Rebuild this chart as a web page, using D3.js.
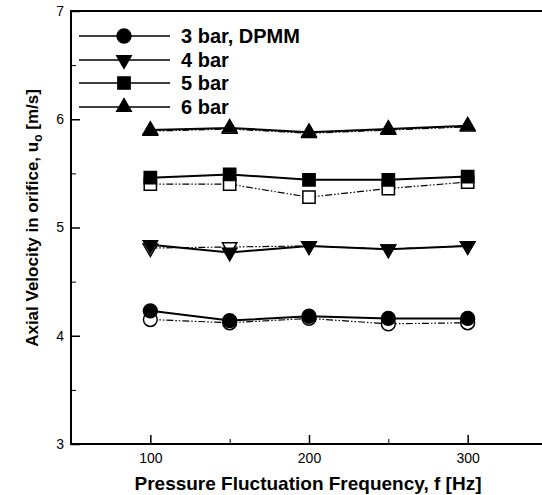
<!DOCTYPE html>
<html><head><meta charset="utf-8">
<script src="https://cdn.jsdelivr.net/npm/d3@7"></script>
<style>html,body{margin:0;background:#fff;overflow:hidden}svg{display:block}text{font-family:Arial,"Liberation Sans",sans-serif}</style>
</head><body><svg id="c" width="542" height="495"></svg>
<script>
const freqs = [100, 150, 200, 250, 300];
const seriesNames = ["3 bar, DPMM", "4 bar", "5 bar", "6 bar"];
const solid3 = [4.23, 4.14, 4.18, 4.16, 4.16];
const open3  = [4.15, 4.12, 4.16, 4.11, 4.12];
const solid4 = [4.84, 4.77, 4.83, 4.80, 4.83];
const open4  = [4.81, 4.82, 4.83, 4.80, 4.83];
const solid5 = [5.46, 5.49, 5.44, 5.44, 5.47];
const open5  = [5.40, 5.40, 5.28, 5.36, 5.42];
const solid6 = [5.90, 5.92, 5.88, 5.91, 5.94];
const open6  = [5.89, 5.91, 5.87, 5.90, 5.93];
const xTicks = [100, 200, 300];
const xMinor = [150, 250];
const yTicks = [3, 4, 5, 6, 7];
const yMinor = [3.5, 4.5, 5.5, 6.5];

const svg = d3.select("#c");
const L = 71, R = 547, T = 11, B = 444;
const x = d3.scaleLinear().domain([50, 350]).range([L, R]);
const y = d3.scaleLinear().domain([3, 7]).range([B, T]);

svg.append("path").attr("d", `M${R},${T}H${L}V${B}H${R}`)
  .attr("fill", "none").attr("stroke", "#000").attr("stroke-width", 2);

const gx = svg.append("g").attr("transform", `translate(0,${B})`)
  .call(d3.axisBottom(x).tickValues(xTicks).tickSizeInner(-9).tickSizeOuter(0).tickPadding(9).tickFormat(d3.format("d")));
gx.select(".domain").remove();
gx.selectAll("line").attr("stroke-width", 1.5);
gx.selectAll("text").attr("font-size", 14).attr("fill", "#000");
svg.append("g").attr("transform", `translate(0,${B})`)
  .call(d3.axisBottom(x).tickValues(xMinor).tickSizeInner(-5).tickSizeOuter(0).tickFormat(""))
  .call(g => g.select(".domain").remove()).selectAll("line").attr("stroke-width", 1);

const gy = svg.append("g").attr("transform", `translate(${L},0)`)
  .call(d3.axisLeft(y).tickValues(yTicks).tickSizeInner(-9).tickSizeOuter(0).tickPadding(7).tickFormat(d3.format("d")));
gy.select(".domain").remove();
gy.selectAll("line").attr("stroke-width", 1.5);
gy.selectAll("text").attr("font-size", 14).attr("fill", "#000");
svg.append("g").attr("transform", `translate(${L},0)`)
  .call(d3.axisLeft(y).tickValues(yMinor).tickSizeInner(-5).tickSizeOuter(0).tickFormat(""))
  .call(g => g.select(".domain").remove()).selectAll("line").attr("stroke-width", 1);

svg.append("text").attr("x", 308).attr("y", 490).attr("text-anchor", "middle")
  .attr("font-size", 19).attr("font-weight", "bold").text("Pressure Fluctuation Frequency, f [Hz]");
const yt = svg.append("text").attr("transform", "translate(38,218) rotate(-90)").attr("text-anchor", "middle")
  .attr("font-size", 17).attr("font-weight", "bold");
yt.append("tspan").text("Axial Velocity in orifice, u");
yt.append("tspan").attr("font-size", 12).attr("dy", 4).text("o");
yt.append("tspan").attr("dy", -4).text(" [m/s]");

const shapes = [d3.symbolCircle, "down", d3.symbolSquare, d3.symbolTriangle];
const sizes = [150, 90, 150, 90];
function marker(g, k, cx, cy, filled) {
  let p;
  if (shapes[k] === "down") {
    p = g.append("path").attr("d", d3.symbol(d3.symbolTriangle, sizes[k])())
      .attr("transform", `translate(${cx},${cy}) rotate(180)`);
  } else {
    p = g.append("path").attr("d", d3.symbol(shapes[k], sizes[k])())
      .attr("transform", `translate(${cx},${cy})`);
  }
  p.attr("fill", filled ? "#000" : "#fff").attr("stroke", "#000").attr("stroke-width", 1.5);
}

const solids = [solid3, solid4, solid5, solid6];
const opens = [open3, open4, open5, open6];
const line = d3.line().x((d, i) => x(freqs[i])).y(d => y(d));

opens.forEach((vals, k) => {
  const g = svg.append("g");
  g.append("path").attr("d", line(vals)).attr("fill", "none").attr("stroke", "#000")
    .attr("stroke-width", 1.2).attr("stroke-dasharray", "7,2,1.5,2,1.5,2");
  vals.forEach((v, i) => marker(g, k, x(freqs[i]), y(v), false));
});
solids.forEach((vals, k) => {
  const g = svg.append("g");
  g.append("path").attr("d", line(vals)).attr("fill", "none").attr("stroke", "#000").attr("stroke-width", 2);
  vals.forEach((v, i) => marker(g, k, x(freqs[i]), y(v), true));
});

const legY = [36, 60, 83, 107];
seriesNames.forEach((name, k) => {
  const g = svg.append("g");
  g.append("line").attr("x1", 79).attr("x2", 170).attr("y1", legY[k]).attr("y2", legY[k])
    .attr("stroke", "#000").attr("stroke-width", 1.5);
  marker(g, k, 124, legY[k], true);
  g.append("text").attr("x", 181).attr("y", legY[k] + 7).attr("font-size", 20)
    .attr("font-weight", "bold").text(name);
});
</script></body></html>
